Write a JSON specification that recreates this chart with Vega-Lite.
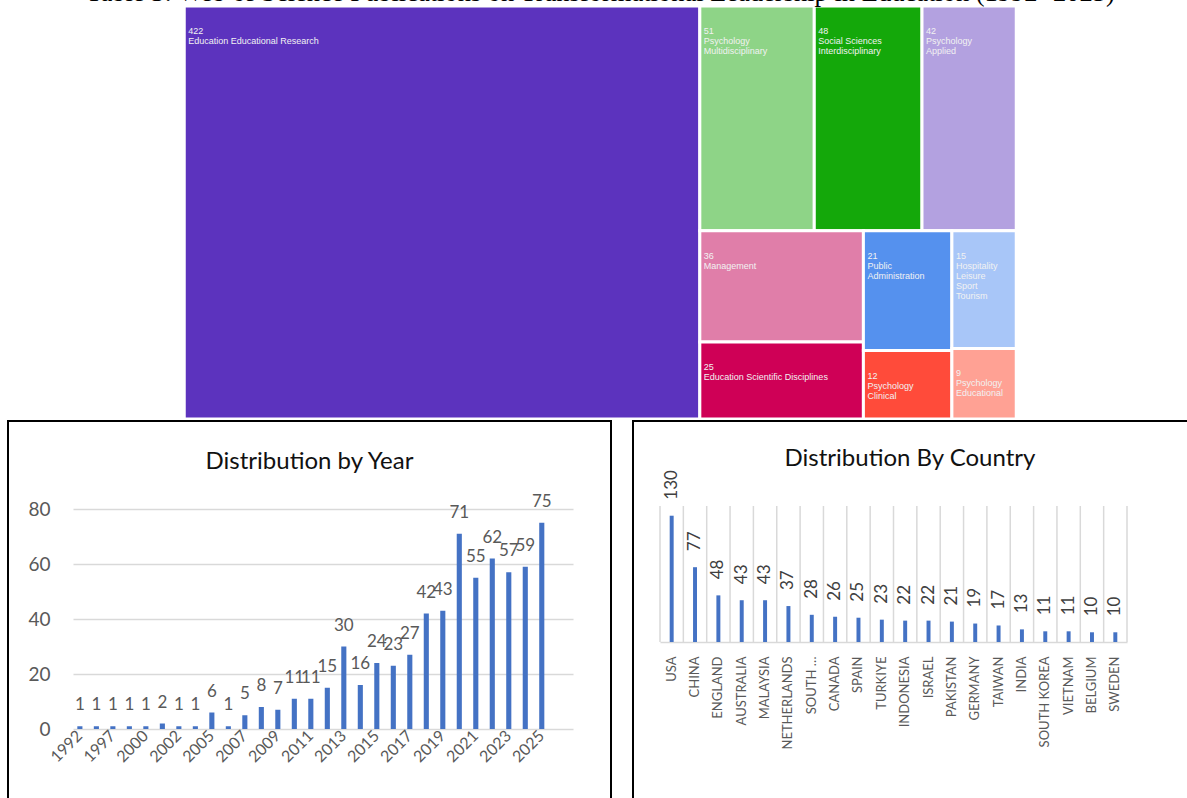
{
  "$schema": "https://vega.github.io/schema/vega-lite/v6.json",
  "background": "white",
  "padding": {"left": 7, "top": -20, "right": 0, "bottom": 0},
  "title": {
    "text": "Table 3: Web of Science Publications on Transformational Leadership in Education (1992- 2025)",
    "font": "Liberation Serif",
    "fontSize": 26.5,
    "fontWeight": "normal",
    "color": "#000000",
    "anchor": "middle",
    "offset": -2
  },
  "config": {"view": {"stroke": null}, "font": "Lato"},
  "spacing": -1,
  "center": true,
  "vconcat": [
    {
      "width": 832,
      "height": 413,
      "data": {
        "values": [
          {"name": "Education Educational Research", "label": "Education Educational Research", "n": 422, "side": "L", "block": "A", "col": "a"},
          {"name": "Psychology Multidisciplinary", "label": "\u00a0\u00a0Psychology\nMultidisciplinary", "n": 51, "side": "R", "block": "B", "col": "b"},
          {"name": "Social Sciences Interdisciplinary", "label": "\u00a0\u00a0Social Sciences\nInterdisciplinary", "n": 48, "side": "R", "block": "B", "col": "c"},
          {"name": "Psychology Applied", "label": "\u00a0\u00a0Psychology\nApplied", "n": 42, "side": "R", "block": "B", "col": "d"},
          {"name": "Management", "label": "Management", "n": 36, "side": "R", "block": "C", "col": "e"},
          {"name": "Education Scientific Disciplines", "label": "Education Scientific Disciplines", "n": 25, "side": "R", "block": "C", "col": "e"},
          {"name": "Public Administration", "label": "\u00a0Public\nAdministration", "n": 21, "side": "R", "block": "C", "col": "f"},
          {"name": "Psychology Clinical", "label": "\u00a0\u00a0Psychology\nClinical", "n": 12, "side": "R", "block": "C", "col": "f"},
          {"name": "Hospitality Leisure Sport Tourism", "label": "\u00a0\u00a0\u00a0\u00a0\u00a0\u00a0Hospitality\n\u00a0\u00a0Leisure\n\u00a0Sport\nTourism", "n": 15, "side": "R", "block": "C", "col": "g"},
          {"name": "Psychology Educational", "label": "\u00a0\u00a0Psychology\nEducational", "n": 9, "side": "R", "block": "C", "col": "g"}
        ]
      },
      "transform": [
        {"joinaggregate": [{"op": "sum", "field": "n", "as": "total"}]},
        {"joinaggregate": [{"op": "sum", "field": "n", "as": "sideSum"}], "groupby": ["side"]},
        {"joinaggregate": [{"op": "sum", "field": "n", "as": "blockSum"}], "groupby": ["block"]},
        {"joinaggregate": [{"op": "sum", "field": "n", "as": "colSum"}], "groupby": ["col"]},
        {"calculate": "1", "as": "all"},
        {"stack": "n", "groupby": ["all"], "sort": [{"field": "side"}, {"field": "block"}, {"field": "colSum", "order": "descending"}, {"field": "col"}, {"field": "n", "order": "descending"}], "as": ["g0", "g1"]},
        {"stack": "n", "groupby": ["side"], "sort": [{"field": "block"}, {"field": "colSum", "order": "descending"}, {"field": "col"}, {"field": "n", "order": "descending"}], "as": ["s0", "s1"]},
        {"stack": "n", "groupby": ["block"], "sort": [{"field": "colSum", "order": "descending"}, {"field": "col"}, {"field": "n", "order": "descending"}], "as": ["b0", "b1"]},
        {"stack": "n", "groupby": ["col"], "sort": [{"field": "n", "order": "descending"}], "as": ["c0", "c1"]},
        {"calculate": "(datum.g0 - datum.s0) / datum.total", "as": "sideX"},
        {"calculate": "datum.sideSum / datum.total", "as": "sideW"},
        {"calculate": "(datum.s0 - datum.b0) / datum.sideSum", "as": "blockY"},
        {"calculate": "datum.blockSum / datum.sideSum", "as": "blockH"},
        {"calculate": "datum.sideX + datum.sideW * (datum.b0 - datum.c0) / datum.blockSum", "as": "x0"},
        {"calculate": "datum.x0 + datum.sideW * datum.colSum / datum.blockSum", "as": "x1"},
        {"calculate": "datum.blockY + datum.blockH * datum.c0 / datum.colSum", "as": "y0"},
        {"calculate": "datum.y0 + datum.blockH * datum.n / datum.colSum", "as": "y1"},
        {"calculate": "datum.n + '\\n' + datum.label", "as": "txt"}
      ],
      "encoding": {
        "x": {"field": "x0", "type": "quantitative", "scale": {"domain": [0, 1], "nice": false, "zero": false}, "axis": null},
        "y": {"field": "y0", "type": "quantitative", "scale": {"domain": [0, 1], "nice": false, "zero": false, "reverse": true}, "axis": null}
      },
      "layer": [
        {
          "mark": {"type": "rect", "stroke": "white", "strokeWidth": 3},
          "encoding": {
            "x2": {"field": "x1"},
            "y2": {"field": "y1"},
            "color": {
              "field": "name",
              "type": "nominal",
              "legend": null,
              "scale": {
                "domain": ["Education Educational Research", "Psychology Multidisciplinary", "Social Sciences Interdisciplinary", "Psychology Applied", "Management", "Education Scientific Disciplines", "Public Administration", "Psychology Clinical", "Hospitality Leisure Sport Tourism", "Psychology Educational"],
                "range": ["#5c33be", "#8ed487", "#14a80a", "#b3a1e0", "#e07ea9", "#cf0056", "#5591ee", "#ff4b3a", "#a8c6f8", "#ffa194"]
              }
            }
          }
        },
        {
          "mark": {"type": "text", "align": "left", "baseline": "top", "dx": 4, "dy": 21, "font": "Liberation Sans", "fontSize": 9, "lineHeight": 10, "lineBreak": "\n", "color": "#f2f2f2"},
          "encoding": {"text": {"field": "txt"}}
        }
      ]
    },
    {
      "spacing": 20,
      "hconcat": [
        {
          "width": 603,
          "height": 390,
          "view": {"stroke": "#000000", "strokeWidth": 2},
          "title": {"text": "Distribution by Year", "font": "Lato", "fontSize": 24, "fontWeight": "normal", "color": "#111111", "anchor": "middle", "baseline": "middle", "offset": -65},
          "data": {
            "values": [
              {"year": "1992", "count": 1}, {"year": "1996", "count": 1}, {"year": "1997", "count": 1},
              {"year": "1999", "count": 1}, {"year": "2000", "count": 1}, {"year": "2001", "count": 2},
              {"year": "2002", "count": 1}, {"year": "2004", "count": 1}, {"year": "2005", "count": 6},
              {"year": "2006", "count": 1}, {"year": "2007", "count": 5}, {"year": "2008", "count": 8},
              {"year": "2009", "count": 7}, {"year": "2010", "count": 11}, {"year": "2011", "count": 11},
              {"year": "2012", "count": 15}, {"year": "2013", "count": 30}, {"year": "2014", "count": 16},
              {"year": "2015", "count": 24}, {"year": "2016", "count": 23}, {"year": "2017", "count": 27},
              {"year": "2018", "count": 42}, {"year": "2019", "count": 43}, {"year": "2020", "count": 71},
              {"year": "2021", "count": 55}, {"year": "2022", "count": 62}, {"year": "2023", "count": 57},
              {"year": "2024", "count": 59}, {"year": "2025", "count": 75}
            ]
          },
          "encoding": {
            "x": {
              "field": "year", "type": "ordinal", "sort": null,
              "scale": {"range": [65, 565], "paddingInner": 0.69, "paddingOuter": 1.295, "align": 0.131},
              "axis": {
                "title": null, "values": ["1992", "1997", "2000", "2002", "2005", "2007", "2009", "2011", "2013", "2015", "2017", "2019", "2021", "2023", "2025"],
                "labelAngle": -45, "labelAlign": "right", "labelBaseline": "middle", "labelFont": "Lato", "labelFontSize": 16, "labelColor": "#595959",
                "domain": false, "ticks": false, "grid": false, "offset": -82, "labelPadding": 4
              }
            },
            "y": {
              "field": "count", "type": "quantitative",
              "scale": {"domain": [0, 80], "range": [308, 88], "nice": false},
              "axis": {
                "title": null, "values": [0, 20, 40, 60, 80], "domain": false, "ticks": false, "tickSize": 0, "labelPadding": 0, "offset": -42,
                "labelFont": "Lato", "labelFontSize": 19, "labelColor": "#595959", "gridColor": "#d9d9d9", "gridWidth": 1.5
              }
            }
          },
          "layer": [
            {"mark": {"type": "bar", "color": "#4472c4"}},
            {"mark": {"type": "text", "baseline": "alphabetic", "dy": -16, "font": "Lato", "fontSize": 17, "color": "#595959"}, "encoding": {"text": {"field": "count"}}}
          ]
        },
        {
          "width": 560,
          "height": 390,
          "view": {"stroke": "#000000", "strokeWidth": 2},
          "title": {"text": "Distribution By Country", "font": "Lato", "fontSize": 24, "fontWeight": "normal", "color": "#111111", "anchor": "middle", "baseline": "middle", "offset": -62, "dx": -3},
          "data": {
            "values": [
              {"country": "USA", "count": 130}, {"country": "CHINA", "count": 77}, {"country": "ENGLAND", "count": 48},
              {"country": "AUSTRALIA", "count": 43}, {"country": "MALAYSIA", "count": 43}, {"country": "NETHERLANDS", "count": 37},
              {"country": "SOUTH AFRICA", "count": 28}, {"country": "CANADA", "count": 26}, {"country": "SPAIN", "count": 25},
              {"country": "TURKIYE", "count": 23}, {"country": "INDONESIA", "count": 22}, {"country": "ISRAEL", "count": 22},
              {"country": "PAKISTAN", "count": 21}, {"country": "GERMANY", "count": 19}, {"country": "TAIWAN", "count": 17},
              {"country": "INDIA", "count": 13}, {"country": "SOUTH KOREA", "count": 11}, {"country": "VIETNAM", "count": 11},
              {"country": "BELGIUM", "count": 10}, {"country": "SWEDEN", "count": 10}
            ]
          },
          "encoding": {
            "x": {
              "field": "country", "type": "nominal", "sort": null,
              "scale": {"range": [27, 494], "paddingInner": 0, "paddingOuter": 0},
              "axis": {
                "title": null, "labelAngle": -90, "labelAlign": "right", "labelBaseline": "middle", "labelPadding": 14,
                "labelFont": "Lato", "labelFontSize": 13, "labelColor": "#595959",
                "labelExpr": "datum.value == 'SOUTH AFRICA' ? 'SOUTH \u2026' : datum.label",
                "ticks": false, "domainColor": "#d9d9d9", "domainWidth": 1.5,
                "grid": false, "offset": -169
              }
            },
            "y": {
              "field": "count", "type": "quantitative",
              "scale": {"domain": [0, 140], "range": [221, 85], "nice": false},
              "axis": null
            }
          },
          "layer": [
            {
              "mark": {"type": "rule", "color": "#d9d9d9", "strokeWidth": 1.5},
              "encoding": {
                "x": {"field": "country", "type": "nominal", "sort": null, "bandPosition": 0},
                "y": {"datum": 0},
                "y2": {"datum": 140}
              }
            },
            {
              "transform": [{"filter": "datum.country == 'SWEDEN'"}],
              "mark": {"type": "rule", "color": "#d9d9d9", "strokeWidth": 1.5},
              "encoding": {
                "x": {"field": "country", "type": "nominal", "sort": null, "bandPosition": 1},
                "y": {"datum": 0},
                "y2": {"datum": 140}
              }
            },
            {"mark": {"type": "bar", "color": "#4472c4", "width": {"band": 0.17}}},
            {"mark": {"type": "text", "angle": -90, "align": "left", "baseline": "middle", "dx": 16, "font": "Lato", "fontSize": 17, "color": "#404040"}, "encoding": {"text": {"field": "count"}}}
          ]
        }
      ]
    }
  ]
}
